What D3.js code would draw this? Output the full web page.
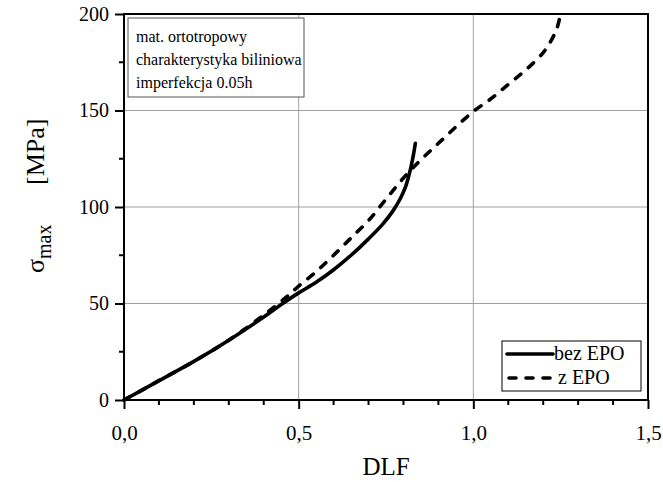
<!DOCTYPE html>
<html>
<head>
<meta charset="utf-8">
<script src="https://cdn.jsdelivr.net/npm/d3@7"></script>
<style>
  html, body { margin: 0; padding: 0; background: #fff; }
  svg { display: block; }
  text { font-family: "Liberation Serif", "Times New Roman", serif; fill: #000; }
</style>
</head>
<body>
<svg id="chart" width="663" height="482"></svg>
<script>
// DLF vs. maximum stress, two variants of the model
const dlfBez = [0, 0.1, 0.2, 0.3, 0.4, 0.45, 0.5, 0.55, 0.6, 0.65, 0.7, 0.74, 0.77, 0.79, 0.805, 0.815, 0.823, 0.829, 0.834];
const sigBez = [0, 10, 20, 31, 43, 49.5, 55.5, 61, 67.5, 75, 83.5, 91, 98, 104, 110, 116, 122, 127.5, 133];

const dlfZ = [0, 0.1, 0.2, 0.3, 0.4, 0.466, 0.5, 0.55, 0.6, 0.65, 0.7, 0.75, 0.8, 0.85, 0.9, 0.95, 1.0, 1.05, 1.1, 1.15, 1.2, 1.225, 1.24, 1.25];
const sigZ   = [0, 10, 20, 31, 44, 53.5, 59, 66.5, 75, 84, 93, 104, 115, 124.5, 133, 141.5, 149.5, 156, 163.5, 171, 180, 187, 193, 200];

const xTicks = [0, 0.5, 1.0, 1.5];
const xTickLabels = ["0,0", "0,5", "1,0", "1,5"];
const xMinor = [0.1, 0.2, 0.3, 0.4, 0.6, 0.7, 0.8, 0.9, 1.1, 1.2, 1.3, 1.4];
const yTicks = [0, 50, 100, 150, 200];
const yMinor = [25, 75, 125, 175];

const noteLines = ["mat. ortotropowy", "charakterystyka biliniowa", "imperfekcja 0.05h"];
const legendLabels = ["bez EPO", "z EPO"];

const svg = d3.select("#chart");
const pL = 124, pR = 648, pT = 14, pB = 400;

const x = d3.scaleLinear().domain([0, 1.5]).range([pL, pR]);
const y = d3.scaleLinear().domain([0, 200]).range([pB, pT]);

// grid
const grid = svg.append("g").attr("stroke", "#a0a0a0").attr("stroke-width", 1);
grid.selectAll("line.gx").data(xTicks.slice(1, -1)).join("line")
  .attr("x1", d => x(d)).attr("x2", d => x(d)).attr("y1", pT).attr("y2", pB);
grid.selectAll("line.gy").data(yTicks.slice(1, -1)).join("line")
  .attr("x1", pL).attr("x2", pR).attr("y1", d => y(d)).attr("y2", d => y(d));

// curves
const line = d3.line().x(d => x(d[0])).y(d => y(d[1])).curve(d3.curveCatmullRom.alpha(0.5));
const bezPts = dlfBez.map((d, i) => [d, sigBez[i]]);
const zPts = dlfZ.map((d, i) => [d, sigZ[i]]);

svg.append("path").datum(zPts).attr("d", line)
  .attr("fill", "none").attr("stroke", "#000").attr("stroke-width", 3.6)
  .attr("stroke-linecap", "round").attr("stroke-dasharray", "7,10");
svg.append("path").datum(bezPts).attr("d", line)
  .attr("fill", "none").attr("stroke", "#000").attr("stroke-width", 3.6)
  .attr("stroke-linecap", "round");

// frame
svg.append("rect").attr("x", pL).attr("y", pT).attr("width", pR - pL).attr("height", pB - pT)
  .attr("fill", "none").attr("stroke", "#000").attr("stroke-width", 2);

// x axis
const xAxis = d3.axisBottom(x).tickValues(xTicks).tickFormat((d, i) => xTickLabels[i]).tickSize(9).tickPadding(16);
const gx = svg.append("g").attr("transform", `translate(0,${pB})`).call(xAxis);
gx.select(".domain").remove();
gx.selectAll(".tick line").attr("stroke", "#000").attr("stroke-width", 2);
gx.selectAll(".tick text").attr("font-size", 21).style("font-family", "Liberation Serif");
svg.append("g").selectAll("line").data(xMinor).join("line")
  .attr("x1", d => x(d)).attr("x2", d => x(d)).attr("y1", pB).attr("y2", pB + 5)
  .attr("stroke", "#000").attr("stroke-width", 2);

// y axis
const yAxis = d3.axisLeft(y).tickValues(yTicks).tickSize(9).tickPadding(6);
const gy = svg.append("g").attr("transform", `translate(${pL},0)`).call(yAxis);
gy.select(".domain").remove();
gy.selectAll(".tick line").attr("stroke", "#000").attr("stroke-width", 2);
gy.selectAll(".tick text").attr("font-size", 20).style("font-family", "Liberation Serif");
svg.append("g").selectAll("line").data(yMinor).join("line")
  .attr("x1", pL - 5).attr("x2", pL).attr("y1", d => y(d)).attr("y2", d => y(d))
  .attr("stroke", "#000").attr("stroke-width", 2);

// axis titles
svg.append("text").attr("x", (pL + pR) / 2).attr("y", 475).attr("text-anchor", "middle")
  .attr("font-size", 25).text("DLF");
const yt = svg.append("text").attr("transform", "translate(44,0) rotate(-90)")
  .attr("x", -273).attr("font-size", 26);
yt.append("tspan").text("σ");
yt.append("tspan").attr("font-size", 20).attr("dy", 7).text("max");
yt.append("tspan").attr("x", -185).attr("dy", -7).text("[MPa]");

// annotation box
const nb = svg.append("g");
nb.append("rect").attr("x", 128).attr("y", 18).attr("width", 176).attr("height", 79)
  .attr("fill", "#fff").attr("stroke", "#555").attr("stroke-width", 1);
nb.selectAll("text").data(noteLines).join("text")
  .attr("x", 136).attr("y", (d, i) => 42 + i * 23).attr("font-size", 16).text(d => d);

// legend
const lg = svg.append("g");
lg.append("rect").attr("x", 502).attr("y", 341).attr("width", 139).attr("height", 50)
  .attr("fill", "#fff").attr("stroke", "#000").attr("stroke-width", 1);
const rows = lg.selectAll("g").data(legendLabels).join("g")
  .attr("transform", (d, i) => `translate(0,${354 + i * 24})`);
rows.append("line").attr("x1", (d, i) => i ? 509 : 507).attr("x2", 553).attr("y1", 0).attr("y2", 0)
  .attr("stroke", "#000").attr("stroke-width", 3.6).attr("stroke-linecap", "round")
  .attr("stroke-dasharray", (d, i) => i ? "7,10" : null);
rows.append("text").attr("x", (d, i) => i ? 558 : 554).attr("y", 6).attr("font-size", 20).text(d => d);
</script>
</body>
</html>
